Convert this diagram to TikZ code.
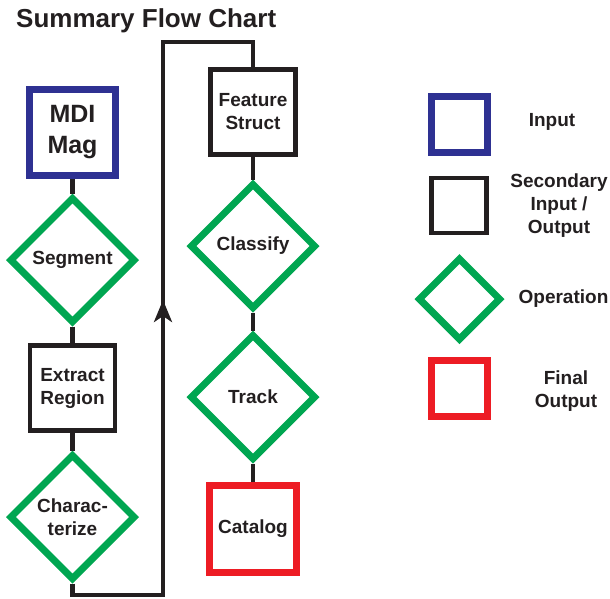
\documentclass[tikz,border=0pt]{standalone}
\usepackage{fontspec}
\setmainfont{Liberation Sans}
\usetikzlibrary{shapes.geometric,arrows.meta}
\definecolor{inblue}{HTML}{2E3192}
\definecolor{opgreen}{HTML}{00A651}
\definecolor{outred}{HTML}{ED1C24}
\definecolor{ink}{HTML}{231F20}
\begin{document}
\begin{tikzpicture}[x=1pt,y=-1pt,
        lbl/.style={font=\fontsize{19}{23}\selectfont\bfseries,text=ink,align=center},
        inbox/.style={draw=inblue,line width=7pt,minimum size=86pt,inner sep=0pt},
        midbox/.style={draw=ink,line width=4.8pt,minimum size=85pt,inner sep=0pt},
        outbox/.style={draw=outred,line width=7pt,minimum size=87pt,inner sep=0pt},
        opdiam/.style={diamond,aspect=1,draw=opgreen,line width=7pt,minimum size=126pt,inner sep=0pt},
        conn/.style={draw=ink,line width=4.8pt}]
            \useasboundingbox (0,0) rectangle (610,598);

            \node[anchor=base west,inner sep=0pt,text=ink,font=\fontsize{26}{31}\selectfont\bfseries] (title) at (16,27) {Summary Flow Chart};

            % left column
            \node[inbox,lbl,font=\fontsize{25}{31}\selectfont\bfseries] (mdi) at (72.5,132.5) {MDI\\Mag};
            \node[opdiam,lbl] (seg) at (72.5,260) {Segment};
            \node[midbox,lbl] (extr) at (72.5,388) {Extract\\Region};
            \node[opdiam,lbl] (char) at (72.5,517) {Charac-\\terize};

            % right column
            \node[midbox,lbl] (feat) at (253,112) {Feature\\Struct};
            \node[opdiam,lbl] (clas) at (253,246) {Classify};
            \node[opdiam,lbl] (track) at (253,397) {Track};
            \node[outbox,lbl] (cat) at (253,528.5) {Catalog};

            \draw[conn] (mdi) -- (seg);
            \draw[conn] (seg) -- (extr);
            \draw[conn] (extr) -- (char);
            \draw[conn] (feat) -- (clas);
            \draw[conn] (clas) -- (track);
            \draw[conn] (track) -- (cat);

            \coordinate (botright) at (163,595);
            \coordinate (topleft) at (163,42);
            \coordinate (arrowtip) at (163,300);
            \draw[conn] (char.south) |- (botright) -- (topleft) -| (feat.north);
            \draw[conn,-{Stealth[length=22pt,width=18pt,inset=6pt]}] (botright) -- (arrowtip);

            % legend
            \node[inbox,minimum size=56pt] (keyin) at (459.5,124) {};
            \node[midbox,minimum size=55pt] (keysec) at (459,205.5) {};
            \node[opdiam,minimum size=83pt] (keyop) at (459.5,299) {};
            \node[outbox,minimum size=56pt] (keyfin) at (459.5,388.5) {};

            \node[lbl,anchor=base] (txtin) at (552,126) {Input};
            \node[lbl] (txtsec) at (559,206) {Secondary\\Input /\\Output};
            \node[lbl,anchor=base] (txtop) at (563.5,303) {Operation};
            \node[lbl] (txtfin) at (566,391) {Final\\Output};
        \end{tikzpicture}
\end{document}
